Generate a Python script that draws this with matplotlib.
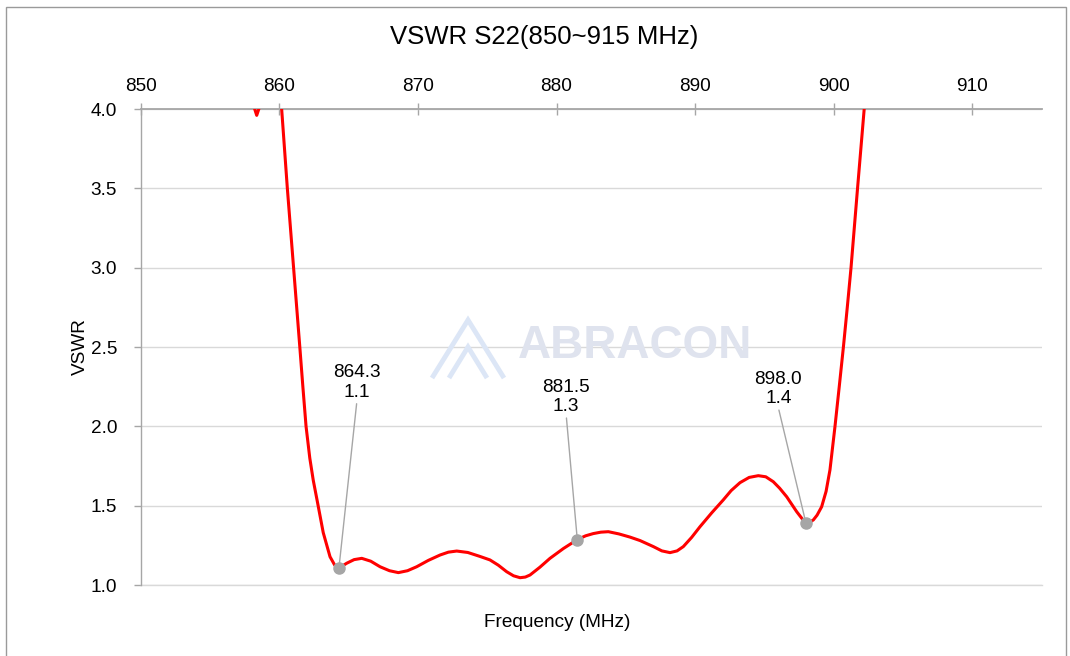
import matplotlib.pyplot as plt
from matplotlib.patches import Rectangle, Polygon

plt.rcParams["font.family"] = ["Liberation Sans", "DejaVu Sans"]

TITLE = "VSWR S22(850~915 MHz)"

# values (MHz, VSWR); above 4.0 is clipped by the axes
FREQ = [850.0, 855.0, 857.5, 858.15, 858.37, 858.6, 859.3, 860.17, 860.58,
        861.03, 861.48, 861.7, 861.93, 862.2, 862.45, 862.78, 863.17, 863.66,
        864.0, 864.26, 864.55, 864.86, 865.4, 865.95, 866.6, 867.27, 867.95,
        868.59, 869.25, 869.91, 870.75, 871.6, 872.2, 872.8, 873.6, 874.48,
        875.2, 875.8, 876.4, 876.9, 877.37, 877.75, 878.09, 878.8, 879.53,
        880.5, 881.5, 882.1, 882.65, 883.2, 883.74, 884.5, 885.3, 886.03,
        886.99, 887.6, 888.19, 888.7, 889.15, 889.75, 890.35, 891.2, 892.03,
        892.6, 893.24, 893.9, 894.56, 895.1, 895.64, 896.1, 896.61, 897.0,
        897.33, 897.7, 898.0, 898.25, 898.53, 898.8, 899.13, 899.45, 899.73,
        900.09, 900.4, 900.7, 900.98, 901.25, 901.72, 902.2, 902.6]
VSWR = [6.0, 5.5, 4.6, 4.02, 3.96, 4.02, 4.4, 4.0, 3.5,
        3.0, 2.5, 2.25, 2.0, 1.8, 1.66, 1.51, 1.33, 1.178,
        1.125, 1.105, 1.12, 1.137, 1.16, 1.168, 1.15, 1.115, 1.09,
        1.078, 1.09, 1.115, 1.155, 1.189, 1.207, 1.214, 1.205, 1.18,
        1.158, 1.125, 1.084, 1.058, 1.046, 1.05, 1.063, 1.112, 1.168,
        1.23, 1.286, 1.31, 1.324, 1.333, 1.336, 1.322, 1.302, 1.28,
        1.242, 1.215, 1.204, 1.215, 1.242, 1.3, 1.367, 1.455, 1.536,
        1.595, 1.645, 1.678, 1.689, 1.682, 1.651, 1.61, 1.556, 1.505,
        1.462, 1.42, 1.389, 1.395, 1.41, 1.44, 1.493, 1.59, 1.725,
        1.997, 2.25, 2.5, 2.75, 3.0, 3.5, 4.0, 4.5]

MARK_F = [864.3, 881.5, 898.0]
MARK_V = [1.105, 1.286, 1.389]
MARK_TXT = ["864.3\n1.1", "881.5\n1.3", "898.0\n1.4"]
TXT_F = [865.6, 880.7, 896.0]
TXT_V = [2.16, 2.07, 2.12]

XTICKS = [850, 860, 870, 880, 890, 900, 910]
YTICKS = [1.0, 1.5, 2.0, 2.5, 3.0, 3.5, 4.0]

W, H = 1070, 656
FS = 13.7
fig = plt.figure(figsize=(W / 100, H / 100), dpi=100)
fig.patch.set_facecolor("white")

# outer chart border
fig.patches.append(Rectangle((6 / W, -0.01), 1060 / W, 1 - 7 / H + 0.01,
                             transform=fig.transFigure, fill=False,
                             edgecolor="#9a9a9a", linewidth=1.0))

ax = fig.add_axes([140.7 / W, 1 - 585 / H, 900.9 / W, 476 / H])
ax.set_xlim(850, 915)
ax.set_ylim(1.0, 4.0)

# watermark
wm = "#dfe3ee"
fig.text(518 / W, 1 - 346 / H, "ABRACON", fontsize=33, fontweight="bold",
         color=wm, va="center", ha="left", zorder=0)
for pts in ([(432, 378), (468, 320), (504, 378)],
            [(449, 378), (468, 347), (487, 378)]):
    fig.patches.append(Polygon([(x / W, 1 - y / H) for x, y in pts], closed=False,
                               fill=False, edgecolor="#dce6f6", linewidth=3.5,
                               transform=fig.transFigure, zorder=0))

ax.set_facecolor("none")
ax.axhline(1.0, color="#d9d9d9", linewidth=1.0, clip_on=False, zorder=1)
ax.plot(FREQ, VSWR, color="#ff0000", linewidth=2.2, zorder=3)
ax.plot(MARK_F, MARK_V, "o", color="#a6a6a6", markersize=8, zorder=4)

for f, v, t, tf, tv in zip(MARK_F, MARK_V, MARK_TXT, TXT_F, TXT_V):
    ax.annotate(t, xy=(f, v), xytext=(tf, tv), ha="center", va="bottom",
                fontsize=FS, linespacing=1.2,
                arrowprops=dict(arrowstyle="-", color="#a6a6a6", lw=1.0,
                                shrinkA=0, shrinkB=0, relpos=(0.5, 0)))

ax.set_yticks(YTICKS)
ax.set_yticklabels([f"{y:.1f}" for y in YTICKS])
ax.set_xticks(XTICKS)
ax.xaxis.tick_top()
ax.grid(axis="y", color="#d9d9d9", linewidth=1.0)
ax.set_axisbelow(True)

for s in ("right", "bottom"):
    ax.spines[s].set_visible(False)
ax.spines["top"].set_color("#a6a6a6")
ax.spines["left"].set_color("#a6a6a6")
ax.spines["top"].set_linewidth(1.3)
ax.spines["left"].set_linewidth(1.0)

ax.tick_params(axis="x", direction="inout", length=8, width=1.0, color="#a6a6a6",
               labelsize=FS, pad=6)
ax.tick_params(axis="y", direction="out", length=5, width=1.0, color="#a6a6a6",
               labelsize=FS, pad=12)

ax.set_ylabel("VSWR", fontsize=FS)
ax.yaxis.set_label_coords(-0.058, 0.5)
ax.xaxis.set_label_position("bottom")
ax.set_xlabel("Frequency (MHz)", fontsize=FS)
ax.xaxis.set_label_coords((557 - 140.7) / 900.9, -0.06)

fig.text(544 / W, 1 - 37 / H, TITLE, fontsize=18.5, ha="center", va="center")

fig.savefig("out.png", dpi=100, facecolor="white")
